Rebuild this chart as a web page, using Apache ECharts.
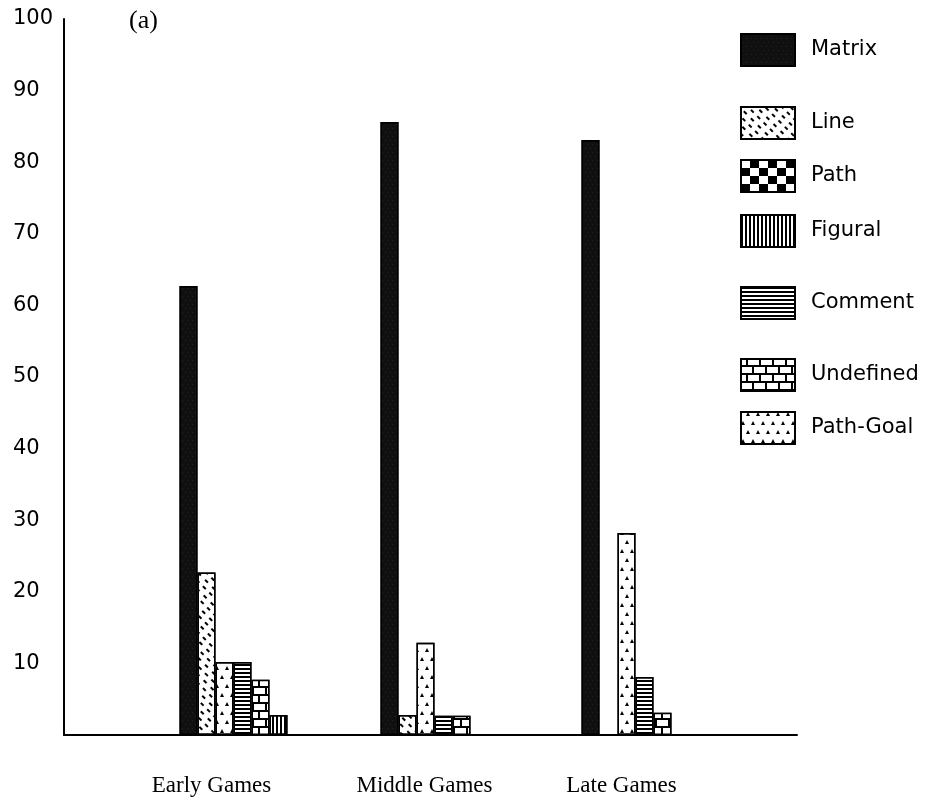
<!DOCTYPE html>
<html>
<head>
<meta charset="utf-8">
<script src="https://cdn.jsdelivr.net/npm/echarts@6/dist/echarts.min.js"></script>
<style>html,body{margin:0;padding:0;background:#fff;}#c{width:938px;height:800px;}</style>
</head>
<body>
<div id="c"></div>
<script>
// ---- data ----
const categories = ['Early Games', 'Middle Games', 'Late Games'];
const matrixVals = [62.7, 85.6, 83.1];
const lineVals = [22.7, 2.8, null];
const pathVals = [null, null, null];
const figuralVals = [2.8, null, null];
const commentVals = [10.2, 2.7, 8.1];
const undefinedVals = [7.7, 2.7, 3.1];
const pathGoalVals = [10.2, 12.9, 28.2];
const legendNames = ['Matrix', 'Line', 'Path', 'Figural', 'Comment', 'Undefined', 'Path-Goal'];
const yTicks = [0, 10, 20, 30, 40, 50, 60, 70, 80, 90, 100];

// ---- layout / style ----
const legendCenters = [49, 122, 175, 230, 302, 374, 427];
const labelShift = {'Early Games': 44, 'Middle Games': 20, 'Late Games': 28};

const border = {borderColor: '#000', borderWidth: 1.5};
const decals = {
  'Matrix': {symbol: 'rect', symbolSize: 0.6, rotation: 0, color: 'rgba(150,150,150,0.5)', dashArrayX: [[1, 4], [0, 2, 1, 2]], dashArrayY: [1, 3]},
  'Line': {symbol: 'rect', symbolSize: 1, rotation: Math.PI / 4, color: '#000', dashArrayX: [[4, 5], [0, 4.5, 4, 0.5]], dashArrayY: [1.8, 4]},
  'Path': {symbol: 'rect', symbolSize: 1, rotation: 0, color: '#000', dashArrayX: [[9, 9], [0, 9, 9, 0]], dashArrayY: [8, 0]},
  'Figural': {symbol: 'rect', symbolSize: 1, rotation: 0, color: '#000', dashArrayX: [1.2, 1.8], dashArrayY: [1, 0]},
  'Comment': {symbol: 'rect', symbolSize: 1, rotation: 0, color: '#000', dashArrayX: [1, 0], dashArrayY: [1.3, 2]},
  'Undefined': {symbol: 'rect', symbolSize: 1, rotation: 0, color: '#fff', dashArrayX: [[11, 2], [5, 2, 6, 0]], dashArrayY: [5.5, 2]},
  'Path-Goal': {symbol: 'triangle', symbolSize: 1, rotation: 0, color: '#000', dashArrayX: [[4, 6], [0, 5, 4, 1]], dashArrayY: [3.5, 4.5]}
};
const baseColor = {
  'Matrix': '#101010', 'Line': '#fff', 'Path': '#fff', 'Figural': '#fff',
  'Comment': '#fff', 'Undefined': '#000', 'Path-Goal': '#fff'
};

function barSeries(name, vals, stack) {
  const s = {
    name: name, type: 'bar', xAxisIndex: 1, yAxisIndex: 1,
    data: vals.map(v => v === null ? '-' : v),
    barWidth: 18, barGap: '0%',
    itemStyle: Object.assign({color: baseColor[name], decal: decals[name]}, border),
    emphasis: {disabled: true}, animation: false
  };
  if (stack) s.stack = stack;
  return s;
}

const series = [
  barSeries('Matrix', matrixVals),
  barSeries('Line', lineVals),
  barSeries('Path-Goal', pathGoalVals),
  barSeries('Comment', commentVals),
  barSeries('Undefined', undefinedVals),
  barSeries('Figural', figuralVals, 'fp'),
  barSeries('Path', pathVals, 'fp')
];

const legends = legendNames.map((n, i) => ({
  data: [n], left: 740, top: legendCenters[i] - 16, orient: 'vertical', padding: 0,
  icon: 'rect', itemWidth: 54, itemHeight: 32, itemGap: 0,
  selectedMode: false,
  itemStyle: {borderColor: '#000', borderWidth: 2},
  textStyle: {fontFamily: 'DejaVu Sans', fontSize: 21, color: '#000', padding: [0, 0, 0, 11]}
}));

const rich = {};
categories.forEach((c, i) => {
  rich['c' + i] = {fontFamily: 'Liberation Serif', fontSize: 23, color: '#000', padding: [0, labelShift[c], 0, 0]};
});

const chart = echarts.init(document.getElementById('c'), null, {renderer: 'canvas'});
chart.setOption({
  animation: false,
  backgroundColor: '#fff',
  aria: {enabled: true, decal: {show: true}},
  title: {text: '(a)', left: 129, top: 8, padding: 0, textStyle: {fontFamily: 'Liberation Serif', fontSize: 26, fontWeight: 'normal', color: '#000'}},
  legend: legends,
  grid: [
    {left: 64, top: 19, width: 733, height: 716},
    {left: 133, top: 19, width: 603, height: 716}
  ],
  xAxis: [
    {gridIndex: 0, type: 'value', min: 0, max: 1, axisLine: {show: true, onZero: false, lineStyle: {color: '#000', width: 2}}, axisTick: {show: false}, axisLabel: {show: false}, splitLine: {show: false}},
    {gridIndex: 1, type: 'category', data: categories, axisLine: {show: false}, axisTick: {show: false}, splitLine: {show: false},
      axisLabel: {margin: 39, formatter: (v) => '{c' + categories.indexOf(v) + '|' + v + '}', rich: rich}}
  ],
  yAxis: [
    {gridIndex: 0, type: 'value', min: yTicks[0], max: yTicks[yTicks.length - 1], interval: yTicks[1] - yTicks[0],
      axisLine: {show: true, lineStyle: {color: '#000', width: 2}}, axisTick: {show: false}, splitLine: {show: false},
      axisLabel: {showMinLabel: false, align: 'left', margin: 51, fontFamily: 'DejaVu Sans', fontSize: 21, color: '#000'}},
    {gridIndex: 1, type: 'value', min: yTicks[0], max: yTicks[yTicks.length - 1], show: false, splitLine: {show: false}}
  ],
  series: series
});
</script>
</body>
</html>
